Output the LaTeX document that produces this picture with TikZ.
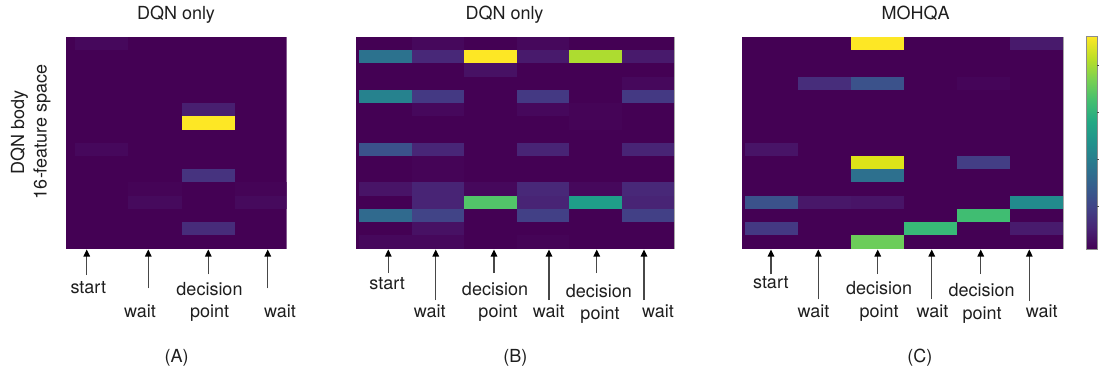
\documentclass[tikz,border=0pt]{standalone}
\usepackage{fontspec}
\setmainfont{TeX Gyre Heros}
\usetikzlibrary{arrows.meta}
\definecolor{v0}{HTML}{440154}
\definecolor{v1}{HTML}{482475}
\definecolor{v2}{HTML}{414487}
\definecolor{v3}{HTML}{355F8D}
\definecolor{v4}{HTML}{2A788E}
\definecolor{v5}{HTML}{21918C}
\definecolor{v6}{HTML}{22A884}
\definecolor{v7}{HTML}{44BF70}
\definecolor{v8}{HTML}{7AD151}
\definecolor{v9}{HTML}{BDDF26}
\definecolor{v10}{HTML}{FDE725}
\definecolor{txt}{HTML}{1E1E1E}
\pgfdeclareverticalshading{viridis}{100bp}{color(0bp)=(v0); color(25bp)=(v0); color(30bp)=(v1); color(35bp)=(v2); color(40bp)=(v3); color(45bp)=(v4); color(50bp)=(v5); color(55bp)=(v6); color(60bp)=(v7); color(65bp)=(v8); color(70bp)=(v9); color(75bp)=(v10); color(100bp)=(v10)}
\newcommand\hmcell[5]{\definecolor{tmpc}{HTML}{#5}\fill[tmpc] ({#1+#2*(#3-1)},{37+13.22*#4}) rectangle ++(#2,13.22);}
\newcommand\cellA[3]{\hmcell{75}{53.3}{#1}{#2}{#3}}
\newcommand\cellB[3]{\hmcell{359}{52.55}{#1}{#2}{#3}}
\newcommand\cellC[3]{\hmcell{745}{53.05}{#1}{#2}{#3}}
\newcommand\mkarrow[3]{\coordinate (#1t) at (#2,249.5); \coordinate (#1b) at (#2,#3); \draw[arr] (#1b) -- (#1t);}
\begin{document}
\begin{tikzpicture}[x=1pt,y=-1pt,
  lbl/.style={font=\fontsize{18}{20}\selectfont, inner sep=0pt, anchor=base, text=txt},
  arr/.style={draw=black!72, line width=1.2pt, -{Triangle[length=7pt,width=6.5pt,color=black]}},
  hmbg/.style={fill=v0}]
\useasboundingbox (0,0) rectangle (1099,375);

% ---------- titles ----------
\node[lbl] (tA) at (176,19.5) {DQN only};
\node[lbl] (tB) at (504.5,19.5) {DQN only};
\node[lbl] (tC) at (915.5,19.5) {MOHQA};

% ---------- y label ----------
\node[lbl, rotate=90] (yl1) at (24,132.5) {DQN body};
\node[lbl, rotate=90] (yl2) at (46.7,131.7) {16-feature space};

% ---------- panel A ----------
\begin{scope}
\clip (66,37) rectangle (286.7,248.5);
\fill[hmbg] (66,37) rectangle (286.7,248.5);
\cellA{1}{0}{46085C}
\cellA{1}{8}{46085C}
\cellA{2}{11}{450457}
\cellA{2}{12}{460A5D}
\cellA{3}{5}{481F70}
\cellA{3}{6}{FDE725}
\cellA{3}{10}{46337F}
\cellA{3}{14}{472C7A}
\cellA{4}{11}{450457}
\cellA{4}{12}{460A5D}
\end{scope}

% ---------- panel B ----------
\begin{scope}
\clip (356,37) rectangle (674.3,248.5);
\fill[hmbg] (356,37) rectangle (674.3,248.5);
\cellB{1}{1}{2C728E}
\cellB{1}{4}{26828E}
\cellB{1}{8}{3B528B}
\cellB{1}{11}{481467}
\cellB{1}{13}{306A8E}
\cellB{1}{15}{46085C}
\cellB{2}{0}{46085C}
\cellB{2}{1}{482878}
\cellB{2}{4}{443983}
\cellB{2}{5}{46085C}
\cellB{2}{8}{482677}
\cellB{2}{9}{450457}
\cellB{2}{10}{450457}
\cellB{2}{11}{482475}
\cellB{2}{12}{482475}
\cellB{2}{13}{414487}
\cellB{2}{14}{471164}
\cellB{2}{15}{46085C}
\cellB{3}{1}{FDE725}
\cellB{3}{2}{471164}
\cellB{3}{11}{46085C}
\cellB{3}{12}{52C569}
\cellB{4}{0}{46085C}
\cellB{4}{1}{481A6C}
\cellB{4}{4}{443983}
\cellB{4}{5}{46085C}
\cellB{4}{8}{482475}
\cellB{4}{11}{482878}
\cellB{4}{12}{482475}
\cellB{4}{13}{424086}
\cellB{4}{15}{450457}
\cellB{5}{1}{ADDC30}
\cellB{5}{5}{450457}
\cellB{5}{6}{450457}
\cellB{5}{11}{46085C}
\cellB{5}{12}{1F9E89}
\cellB{6}{1}{481A6C}
\cellB{6}{3}{46085C}
\cellB{6}{4}{443983}
\cellB{6}{8}{482475}
\cellB{6}{11}{482878}
\cellB{6}{12}{482475}
\cellB{6}{13}{424086}
\end{scope}
\draw[black!35, line width=0.8pt] (674.3,37) -- (674.3,248.5);

% ---------- panel C ----------
\begin{scope}
\clip (742,37) rectangle (1063.3,248.5);
\fill[hmbg] (742,37) rectangle (1063.3,248.5);
\cellC{1}{8}{481467}
\cellC{1}{12}{3B528B}
\cellC{1}{14}{443983}
\cellC{2}{3}{472D7B}
\cellC{2}{12}{481769}
\cellC{3}{0}{FDE725}
\cellC{3}{3}{3B528B}
\cellC{3}{9}{DDE318}
\cellC{3}{10}{2D708E}
\cellC{3}{12}{481467}
\cellC{3}{15}{6CCD5A}
\cellC{4}{14}{38B977}
\cellC{5}{3}{450559}
\cellC{5}{9}{433E85}
\cellC{5}{13}{40BD72}
\cellC{6}{0}{481A6C}
\cellC{6}{12}{228B8D}
\cellC{6}{14}{481B6D}
\end{scope}
\draw[black!35, line width=0.8pt] (1063.3,37) -- (1063.3,248.5);

% ---------- colorbar ----------
\shade[shading=viridis] (1086,36.7) rectangle (1097.3,249.3);
\draw[black!45, line width=0.6pt] (1086,36.7) rectangle (1097.3,249.3);
\foreach \ty in {65,112,159,206.7} \draw[black!70, line width=0.6pt] (1097.3,\ty) -- (1099.5,\ty);

% ---------- arrows & labels: A ----------
\mkarrow{aA1}{86.7}{275}
\mkarrow{aA2}{148.3}{288.3}
\mkarrow{aA3}{208.3}{274.3}
\mkarrow{aA4}{267.7}{288.3}
\node[lbl] (lA1) at (88.3,293) {start};
\node[lbl] (lA2) at (140,317) {wait};
\node[lbl] (lA3) at (209.5,295) {decision};
\node[lbl] (lA3b) at (209.7,317) {point};
\node[lbl] (lA4) at (280,317) {wait};
\node[lbl] (capA) at (176.7,362) {(A)};

% ---------- arrows & labels: B ----------
\mkarrow{aB1}{388.3}{273}
\mkarrow{aB2}{435.7}{300}
\mkarrow{aB3}{494}{273}
\mkarrow{aB4}{549}{300}
\mkarrow{aB5}{596.7}{273}
\mkarrow{aB6}{644}{300}
\node[lbl] (lB1) at (387.2,289.3) {start};
\node[lbl] (lB2) at (429.7,317.3) {wait};
\node[lbl] (lB3) at (495,295.7) {decision};
\node[lbl] (lB3b) at (498,317) {point};
\node[lbl] (lB4) at (548.8,317.3) {wait};
\node[lbl] (lB5) at (598.8,297.3) {decision};
\node[lbl] (lB5b) at (600,319) {point};
\node[lbl] (lB6) at (658,317.3) {wait};
\node[lbl] (capB) at (515.3,362) {(B)};

% ---------- arrows & labels: C ----------
\mkarrow{aC1}{771}{274.3}
\mkarrow{aC2}{818.3}{299.3}
\mkarrow{aC3}{877.7}{274}
\mkarrow{aC4}{931.7}{299}
\mkarrow{aC5}{980.7}{274}
\mkarrow{aC6}{1029.3}{301}
\node[lbl] (lC1) at (770.8,288.3) {start};
\node[lbl] (lC2) at (813.5,317) {wait};
\node[lbl] (lC3) at (879.2,294.3) {decision};
\node[lbl] (lC3b) at (879.2,317) {point};
\node[lbl] (lC4) at (932.5,317) {wait};
\node[lbl] (lC5) at (981.7,296.7) {decision};
\node[lbl] (lC5b) at (982.2,319) {point};
\node[lbl] (lC6) at (1041.8,317) {wait};
\node[lbl] (capC) at (919.8,362) {(C)};
\end{tikzpicture}
\end{document}
